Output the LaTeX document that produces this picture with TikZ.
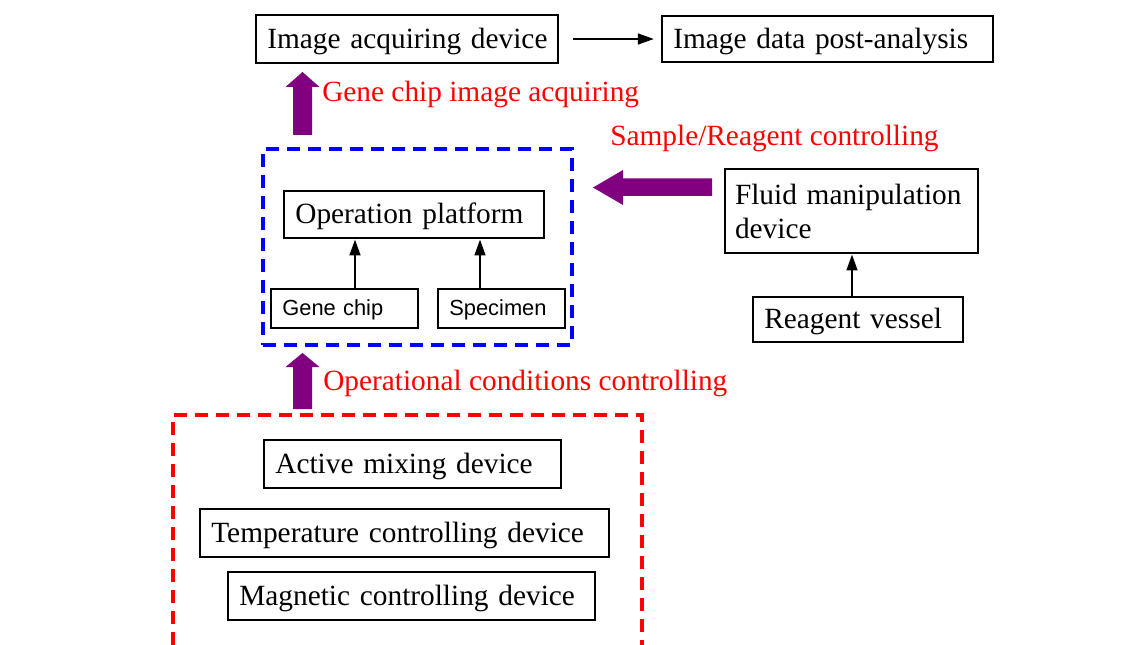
\documentclass[tikz,border=0pt]{standalone}
\usepackage{fontspec}
\setmainfont{Liberation Serif}
\newfontfamily\arialfont{Liberation Sans}
\usetikzlibrary{arrows.meta}
\definecolor{arrowpurple}{RGB}{128,0,128}
\definecolor{lblred}{RGB}{255,0,0}
\definecolor{frameblue}{RGB}{0,0,255}
\begin{document}
\begin{tikzpicture}[x=0.75pt,y=-0.75pt,
  box/.style={draw, line width=2.1pt, inner xsep=8.5pt, inner ysep=0pt, align=left,
    font=\fontsize{22}{25.5}\selectfont, text height=15pt, text depth=1pt},
  sbox/.style={box, font=\arialfont\fontsize{16.4}{19}\selectfont, text height=11pt, text depth=1pt},
  lbl/.style={text=lblred, font=\fontsize{22}{25.5}\selectfont, anchor=base west, inner sep=0pt},
  thinarrow/.style={draw, line width=1.8pt, -{Triangle[length=12pt,width=8pt]}},
  bigarrow/.style={fill=arrowpurple, draw=none},
  groupframe/.style={line width=2.4pt, dash pattern=on 9.75pt off 6pt}
]
\useasboundingbox (0,0) rectangle (1145,645);

% top row
\node[box, text width=209.5pt, minimum height=36pt] (acq) at (407,39) {\mbox{Image acquiring device}};
\node[box, text width=231.25pt, minimum height=34.5pt] (post) at (827.5,39) {\mbox{Image data post-analysis}};
\draw[thinarrow, shorten <=10.5pt, shorten >=5pt] (acq.east) -- (post.west);

% blue platform frame
\node[groupframe, draw=frameblue, minimum width=231.75pt, minimum height=147pt, inner sep=0pt] (platform) at (417.5,247) {};
\node[box, text width=178pt, minimum height=35.25pt] (op) at (414,214.5) {\mbox{Operation platform}};
\node[sbox, text width=93.25pt, minimum height=29.25pt] (gene) at (344.5,308.5) {\mbox{Gene chip}};
\node[sbox, text width=78.25pt, minimum height=29.25pt] (spec) at (501.5,308.5) {\mbox{Specimen}};
\coordinate (xg) at (355,0);
\coordinate (xs) at (480,0);
\draw[thinarrow] (gene.north -| xg) -- (op.south -| xg);
\draw[thinarrow] (spec.north -| xs) -- (op.south -| xs);

% fluid side
\node[box, inner xsep=7.5pt, text width=174.75pt, minimum height=63pt, text height=, text depth=] (fluid) at (851.5,211) {\mbox{Fluid manipulation}\\device};
\node[box, text width=140.5pt, minimum height=33.75pt] (reagent) at (858,319.5) {\mbox{Reagent vessel}};
\coordinate (xr) at (852,0);
\draw[thinarrow] (reagent.north -| xr) -- (fluid.south -| xr);

% red operational frame
\coordinate (rf1) at (173,645);
\coordinate (rf2) at (173,415);
\coordinate (rf3) at (642,415);
\coordinate (rf4) at (642,645);
\draw[groupframe, draw=lblred] (rf1) -- (rf2) -- (rf3) -- (rf4);
\node[box, text width=205.75pt, minimum height=36pt] (active) at (412.5,464) {\mbox{Active mixing device}};
\node[box, text width=289.75pt, minimum height=36pt] (temp) at (404.5,533) {\mbox{Temperature controlling device}};
\node[box, text width=258.25pt, minimum height=36pt] (mag) at (411.5,596) {\mbox{Magnetic controlling device}};

% purple arrows
\fill[bigarrow] (293,135) -- (293,87) -- (285.5,87) -- (302.5,72) -- (319.5,87) -- (312,87) -- (312,135) -- cycle;
\fill[bigarrow] (293,409) -- (293,367) -- (285.5,367) -- (302.5,353) -- (319.5,367) -- (312,367) -- (312,409) -- cycle;
\fill[bigarrow] (712,178.5) -- (623,178.5) -- (623,170) -- (593,187.5) -- (623,205) -- (623,196) -- (712,196) -- cycle;

% labels
\node[lbl] (lblacq) at (322,102) {Gene chip image acquiring};
\node[lbl] (lblsample) at (610,146) {Sample/Reagent controlling};
\node[lbl] (lblop) at (323,390) {Operational conditions controlling};
\end{tikzpicture}
\end{document}
